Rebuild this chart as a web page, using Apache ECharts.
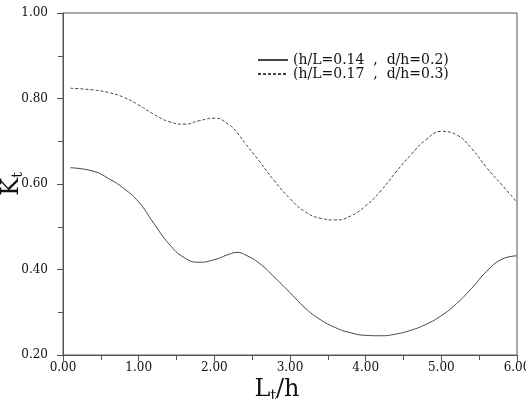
<!DOCTYPE html>
<html>
<head>
    <meta charset="utf-8" />
    <script src="https://cdn.jsdelivr.net/npm/echarts@6/dist/echarts.min.js"></script>
    <title></title>
</head>
<body style="margin:0">
    <div id="main" style="width: 526px;height:399px;"></div>
</body>
</html>
<script>
    // Lt/h values
    var xs = [0.1, 0.4, 0.6, 0.8, 1.0, 1.2, 1.4, 1.6, 1.8, 2.0, 2.2, 2.3, 2.4, 2.6, 2.8, 3.0,
              3.2, 3.4, 3.6, 3.8, 4.0, 4.2, 4.4, 4.6, 4.8, 5.0, 5.2, 5.4, 5.6, 5.8, 6.0];
    // Kt, h/L=0.14, d/h=0.2
    var kt1 = [0.638, 0.630, 0.613, 0.590, 0.558, 0.508, 0.460, 0.428, 0.417, 0.423, 0.436, 0.440, 0.435, 0.414, 0.381, 0.346,
               0.310, 0.283, 0.264, 0.252, 0.246, 0.245, 0.249, 0.258, 0.272, 0.292, 0.320, 0.356, 0.396, 0.424, 0.432];
    // Kt, h/L=0.17, d/h=0.3
    var kt2 = [0.824, 0.820, 0.814, 0.803, 0.785, 0.763, 0.746, 0.740, 0.748, 0.754, 0.738, 0.720, 0.697, 0.652, 0.606, 0.566,
               0.535, 0.520, 0.516, 0.525, 0.549, 0.584, 0.628, 0.669, 0.704, 0.723, 0.715, 0.683, 0.638, 0.598, 0.557];
    var names = ['(h/L=0.14  ,  d/h=0.2)', '(h/L=0.17  ,  d/h=0.3)'];

    function pairs(ys) {
        var out = [];
        for (var i = 0; i < xs.length; i++) {
            out.push([xs[i], ys[i]]);
        }
        return out;
    }

    var chart = echarts.init(document.getElementById('main'));
    var font = 'DejaVu Serif';
    var option = {
        animation: false,
        grid: {
            left: 63, right: 9, top: 13, bottom: 44,
            outerBoundsMode: 'none',
            containLabel: false,
            show: true, borderColor: '#555', borderWidth: 1
        },
        legend: {
            orient: 'vertical',
            left: 252, top: 48,
            itemWidth: 30, itemHeight: 12, itemGap: 0,
            itemStyle: { opacity: 0 },
            textStyle: { fontFamily: font, fontSize: 14, lineHeight: 13, color: '#111' },
            data: names
        },
        xAxis: {
            type: 'value',
            min: 0, max: 6, interval: 1,
            name: '{a|L}{b|t}{a|/h}',
            nameLocation: 'middle',
            nameGap: 22,
            nameMoveOverlap: false,
            nameTextStyle: {
                padding: [0, 26, 0, 0],
                rich: {
                    a: { fontFamily: font, fontSize: 24, color: '#111', lineHeight: 26 },
                    b: { fontFamily: font, fontSize: 14, color: '#111', verticalAlign: 'bottom', lineHeight: 18 }
                }
            },
            axisLine: { lineStyle: { color: '#555' } },
            axisTick: { length: 6, lineStyle: { color: '#555' } },
            minorTick: { show: true, splitNumber: 2, length: 5, lineStyle: { color: '#555' } },
            splitLine: { show: false },
            axisLabel: {
                margin: 7, fontFamily: font, fontSize: 12, color: '#111',
                formatter: function (v) { return v.toFixed(2); }
            }
        },
        yAxis: {
            type: 'value',
            min: 0.2, max: 1.0, interval: 0.2,
            name: '{a|K}{b|t}',
            nameLocation: 'middle',
            nameGap: 38,
            nameMoveOverlap: false,
            nameTextStyle: {
                rich: {
                    a: { fontFamily: font, fontSize: 24, color: '#111', lineHeight: 26 },
                    b: { fontFamily: font, fontSize: 14, color: '#111', verticalAlign: 'bottom', lineHeight: 18 }
                }
            },
            axisLine: { show: true, lineStyle: { color: '#555' } },
            axisTick: { show: true, length: 6, lineStyle: { color: '#555' } },
            minorTick: { show: true, splitNumber: 2, length: 5, lineStyle: { color: '#555' } },
            splitLine: { show: false },
            axisLabel: {
                margin: 15, fontFamily: font, fontSize: 12, color: '#111',
                formatter: function (v) { return v.toFixed(2); }
            }
        },
        series: [
            {
                name: names[0],
                type: 'line',
                smooth: 0.5,
                symbol: 'none',
                lineStyle: { color: '#444', width: 1 },
                itemStyle: { color: '#444' },
                data: pairs(kt1)
            },
            {
                name: names[1],
                type: 'line',
                smooth: 0.5,
                symbol: 'none',
                lineStyle: { color: '#444', width: 1, type: [3, 2] },
                itemStyle: { color: '#444' },
                data: pairs(kt2)
            }
        ]
    };
    chart.setOption(option);
</script>
